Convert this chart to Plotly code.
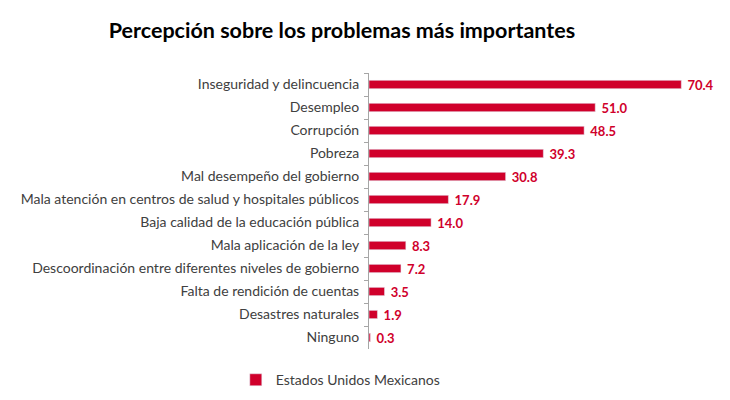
import plotly.graph_objects as go

categorias = [
    "Inseguridad y delincuencia",
    "Desempleo",
    "Corrupción",
    "Pobreza",
    "Mal desempeño del gobierno",
    "Mala atención en centros de salud y hospitales públicos",
    "Baja calidad de la educación pública",
    "Mala aplicación de la ley",
    "Descoordinación entre diferentes niveles de gobierno",
    "Falta de rendición de cuentas",
    "Desastres naturales",
    "Ninguno",
]
porcentajes = [70.4, 51.0, 48.5, 39.3, 30.8, 17.9, 14.0, 8.3, 7.2, 3.5, 1.9, 0.3]
serie = "Estados Unidos Mexicanos"

rojo = "#D0002B"
fuente = "Lato, 'Open Sans', sans-serif"

fig = go.Figure()
fig.add_trace(go.Bar(
    y=categorias, x=porcentajes, orientation="h", name=serie,
    marker=dict(color=rojo),
    texttemplate="\u00a0%{x:.1f}", textposition="outside", cliponaxis=False,
    constraintext="none",
    textfont=dict(color=rojo, size=13, family=fuente, weight="bold"),
))

fig.update_layout(
    width=730, height=400,
    margin=dict(l=361, r=23, t=65, b=56),
    plot_bgcolor="white", paper_bgcolor="white",
    bargap=0.64,
    title=dict(text="<b>Percepción sobre los problemas más importantes</b>",
               x=0.4575, xanchor="center", y=0.945, yanchor="middle",
               font=dict(size=21.5, color="black", family=fuente)),
    showlegend=True,
    legend=dict(orientation="h", x=-0.385, xanchor="left", y=-0.055, yanchor="top",
                font=dict(size=14, color="#404040", family=fuente),
                itemwidth=30),
    font=dict(family=fuente),
)
fig.update_xaxes(range=[0, 78], visible=False)
fig.update_yaxes(autorange="reversed", showline=True, linecolor="#A6A6A6", linewidth=1,
                 ticks="outside", tickson="boundaries", ticklen=4, tickcolor="#A6A6A6",
                 ticklabelstandoff=6, showgrid=False,
                 tickfont=dict(size=14, color="#404040", family=fuente))

fig.write_html("out.html")
